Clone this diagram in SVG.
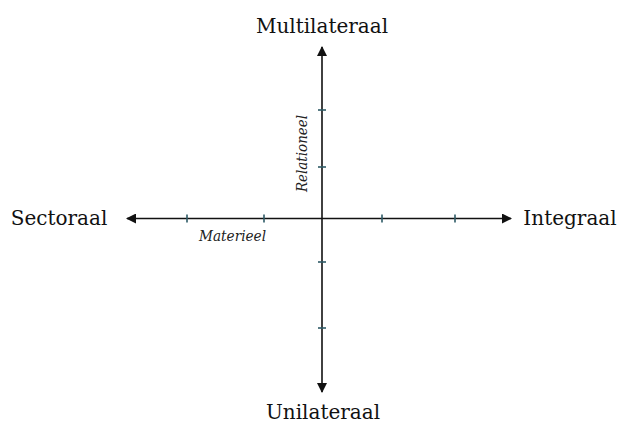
<svg xmlns="http://www.w3.org/2000/svg" width="620" height="423" viewBox="0 0 620 423">
  <style>
    .axis { stroke: #111; stroke-width: 1.6; fill: none; }
    .tick { stroke: #2e5a66; stroke-width: 1.6; }
    .pole { font-family: "DejaVu Serif", "Liberation Serif", serif; font-size: 20px; fill: #111; }
    .dim { font-family: "DejaVu Serif", "Liberation Serif", serif; font-size: 14px; font-style: italic; fill: #222; }
  </style>
  <defs>
    <marker id="arrow" viewBox="0 0 10 10" refX="9" refY="5" markerWidth="10" markerHeight="10" markerUnits="userSpaceOnUse" orient="auto-start-reverse">
      <path d="M0,0 L10,5 L0,10 Z" fill="#111"/>
    </marker>
  </defs>
  <rect width="620" height="423" fill="#fff"/>

  <g id="connectors">
    <line class="axis" x1="127" y1="218.5" x2="511" y2="218.5" marker-start="url(#arrow)" marker-end="url(#arrow)"/>
    <line class="axis" x1="322" y1="47" x2="322" y2="392" marker-start="url(#arrow)" marker-end="url(#arrow)"/>
    <g id="ticks">
      <line class="tick" x1="187" y1="214.5" x2="187" y2="222.5"/>
      <line class="tick" x1="264" y1="214.5" x2="264" y2="222.5"/>
      <line class="tick" x1="382" y1="214.5" x2="382" y2="222.5"/>
      <line class="tick" x1="455" y1="214.5" x2="455" y2="222.5"/>
      <line class="tick" x1="318" y1="110" x2="326" y2="110"/>
      <line class="tick" x1="318" y1="167" x2="326" y2="167"/>
      <line class="tick" x1="318" y1="262" x2="326" y2="262"/>
      <line class="tick" x1="318" y1="328" x2="326" y2="328"/>
    </g>
  </g>

  <g id="multilateraal"><text class="pole" x="322" y="33" text-anchor="middle">Multilateraal</text></g>
  <g id="unilateraal"><text class="pole" x="323" y="419" text-anchor="middle">Unilateraal</text></g>
  <g id="sectoraal"><text class="pole" x="59" y="225" text-anchor="middle">Sectoraal</text></g>
  <g id="integraal"><text class="pole" x="570" y="225" text-anchor="middle">Integraal</text></g>
  <g id="materieel"><text class="dim" x="199" y="241" textLength="67" lengthAdjust="spacingAndGlyphs">Materieel</text></g>
  <g id="relationeel"><text class="dim" transform="translate(307,192) rotate(-90)" textLength="77" lengthAdjust="spacingAndGlyphs">Relationeel</text></g>
</svg>
